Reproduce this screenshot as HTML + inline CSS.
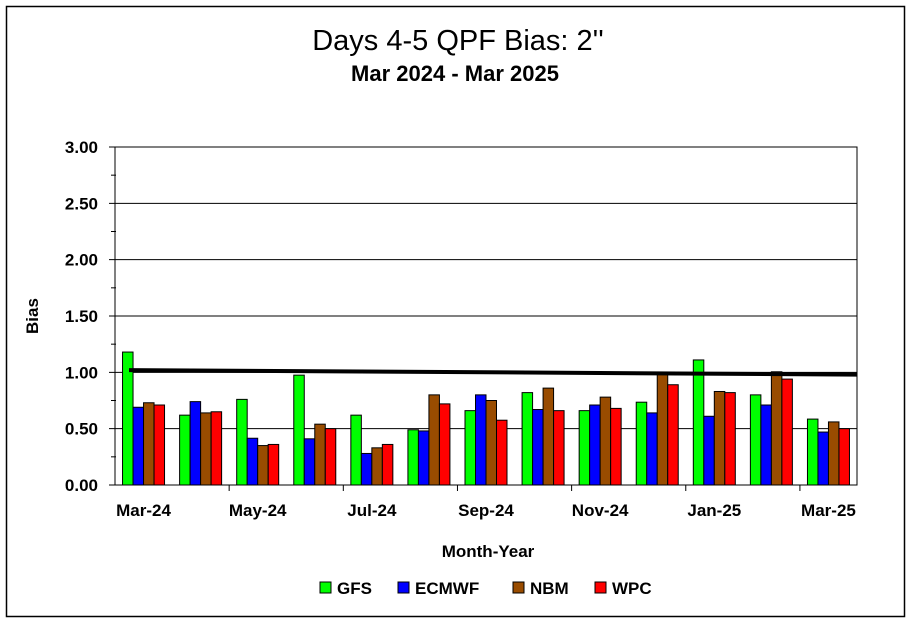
<!DOCTYPE html>
<html><head><meta charset="utf-8"><style>
body{margin:0;background:#fff;width:910px;height:622px;overflow:hidden}
svg text{font-family:"Liberation Sans",Arial,sans-serif;font-weight:bold;fill:#000}
</style></head><body>
<svg id="chart" width="910" height="622">
<rect x="6.5" y="6.5" width="898" height="610" fill="#fff" stroke="#000" stroke-width="1.5"/>
<text x="458" y="50" font-size="29" text-anchor="middle" font-weight="normal" style="font-weight:normal">Days 4-5 QPF Bias:  2''</text>
<text x="455" y="81" font-size="22" text-anchor="middle">Mar 2024 - Mar 2025</text>
<g id="grid"></g><g id="bars"></g><g id="axes"></g>
<text x="38" y="316" font-size="17" text-anchor="middle" transform="rotate(-90 38 316)">Bias</text>
<text x="488" y="557" font-size="17" text-anchor="middle">Month-Year</text>
<g id="legend"></g>
</svg>
<script>
const months=["Mar-24","Apr-24","May-24","Jun-24","Jul-24","Aug-24","Sep-24","Oct-24","Nov-24","Dec-24","Jan-25","Feb-25","Mar-25"];
const seriesNames=["GFS","ECMWF","NBM","WPC"];
const seriesColors=["#00ff00","#0000ff","#994c00","#ff0000"];
const gfs=[1.18,0.62,0.76,0.975,0.62,0.49,0.66,0.82,0.66,0.735,1.11,0.80,0.585];
const ecmwf=[0.69,0.74,0.415,0.41,0.28,0.48,0.80,0.67,0.71,0.64,0.61,0.71,0.47];
const nbm=[0.73,0.64,0.35,0.54,0.33,0.80,0.75,0.86,0.78,0.985,0.83,1.005,0.56];
const wpc=[0.71,0.65,0.36,0.50,0.36,0.72,0.575,0.66,0.68,0.89,0.82,0.94,0.50];
const yTicks=[0,0.5,1,1.5,2,2.5,3];
const yTickLabels=["0.00","0.50","1.00","1.50","2.00","2.50","3.00"];
const trendStart=1.02, trendEnd=0.98;
const L=115,R=857,T=147,B=485,yMax=3;
const NS="http://www.w3.org/2000/svg";
const y=v=>B-(v/yMax)*(B-T);
const bw=(R-L)/months.length;
const xc=i=>L+bw*(i+0.5);
function mk(tag,attrs,parent){const e=document.createElementNS(NS,tag);for(const k in attrs)e.setAttribute(k,attrs[k]);parent.appendChild(e);return e;}
const grid=document.getElementById('grid'),axes=document.getElementById('axes'),bars=document.getElementById('bars'),legend=document.getElementById('legend');
mk('rect',{x:L,y:T,width:R-L,height:B-T,fill:'none',stroke:'#000','stroke-width':1},grid);
yTicks.forEach((v,i)=>{
  const g=mk('line',{x1:L-6,x2:R,y1:y(v),y2:y(v),stroke:'#000','stroke-width':1},grid);
  
  
  const t=mk('text',{x:98,y:y(v)+6,'font-size':17,'text-anchor':'end'},axes);
  t.textContent=yTickLabels[i];
  
  
  if(i<yTicks.length-1){const m=mk('line',{x1:L-4,x2:L+1,y1:y(v+0.25),y2:y(v+0.25),stroke:'#000'},axes);
  
  }
});
const all=[gfs,ecmwf,nbm,wpc];
const barW=10.5, gw=barW*4;
months.forEach((m,i)=>{
  all.forEach((s,j)=>{
    const r=mk('rect',{x:xc(i)-gw/2+j*barW,y:y(s[i]),width:barW,height:B-y(s[i]),fill:seriesColors[j],stroke:'#000','stroke-width':1},bars);
    
    
  });
  if(i%2===0){
    const t=mk('text',{x:xc(i),y:516,'font-size':17,'text-anchor':'middle'},axes);
    t.textContent=m;
    
    
  }
  if(i%2===0 && i>0){const tk=mk('line',{x1:L+bw*i,x2:L+bw*i,y1:B,y2:B+6,stroke:'#000'},axes);
  
  }
});
const tl=mk('line',{x1:129,x2:R,y1:y(trendStart),y2:y(trendEnd),stroke:'#000','stroke-width':4},bars);


const lx=[320,398,513,595];
seriesNames.forEach((n,j)=>{
  const r=mk('rect',{x:lx[j],y:582,width:11,height:11,fill:seriesColors[j],stroke:'#000'},legend);
  
  
  const t=mk('text',{x:lx[j]+17,y:594,'font-size':17},legend);
  t.textContent=n;
  
  
});
</script>
</body></html>
